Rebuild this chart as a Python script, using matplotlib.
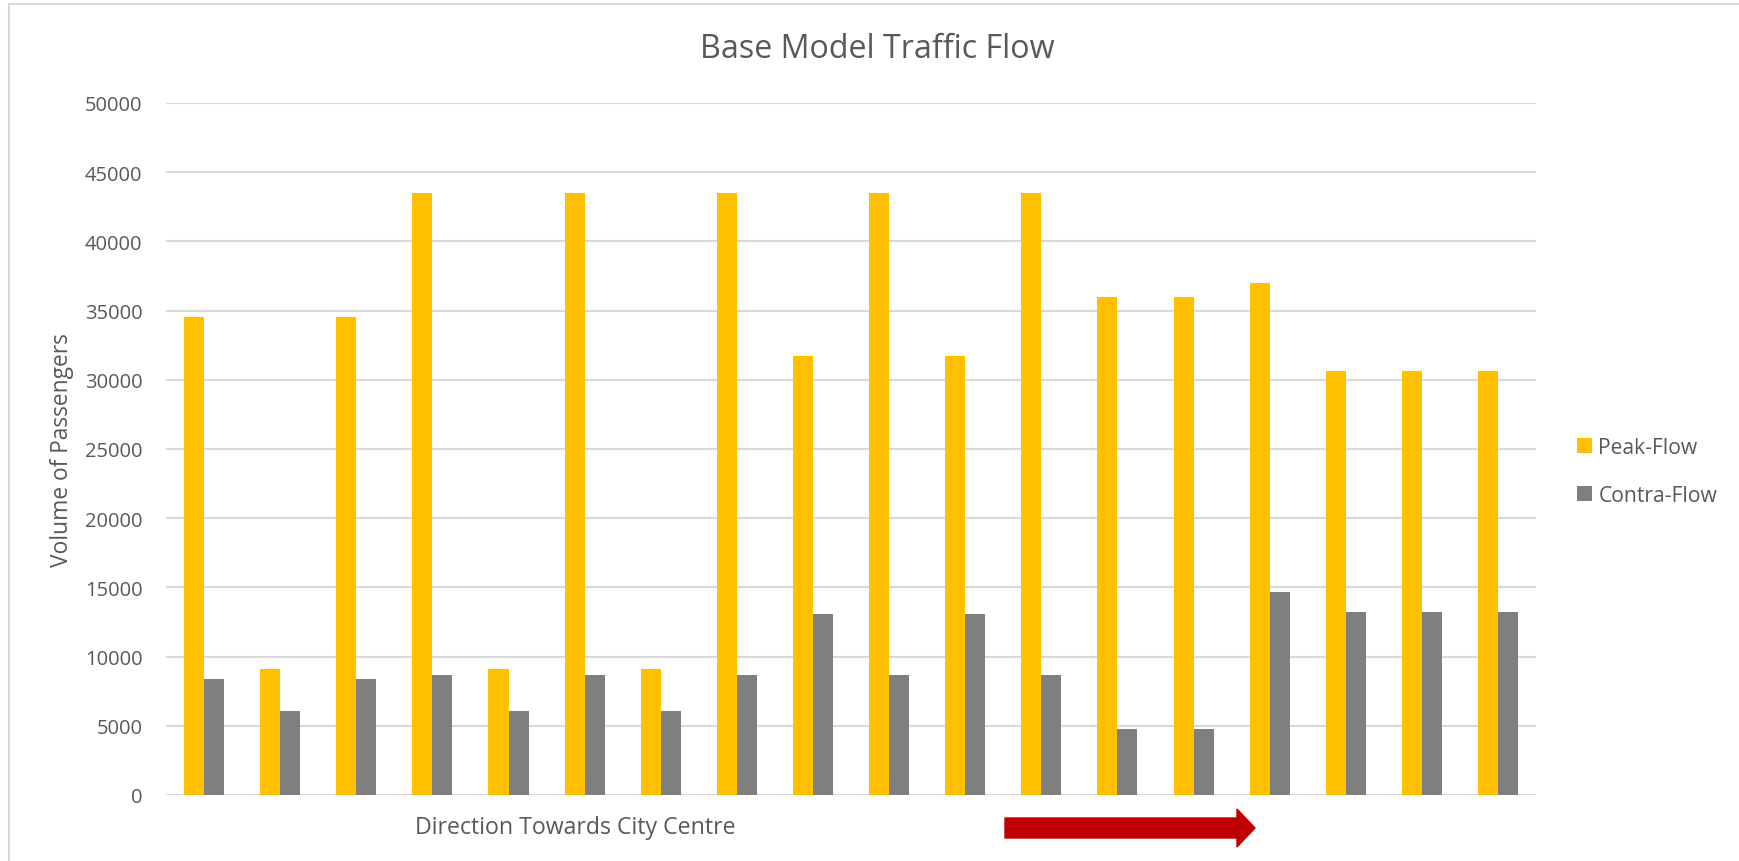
import numpy as np
import matplotlib
matplotlib.use('Agg')
import matplotlib.pyplot as plt
from matplotlib.patches import FancyArrow, Rectangle

# values
stations = np.arange(18)
peak_flow = [34500, 9100, 34500, 43500, 9100, 43500, 9100, 43500, 31700,
             43500, 31700, 43500, 36000, 36000, 37000, 30600, 30600, 30600]
contra_flow = [8400, 6100, 8400, 8700, 6100, 8700, 6100, 8700, 13100,
               8700, 13100, 8700, 4750, 4750, 14700, 13200, 13200, 13200]
yticks = np.arange(0, 50001, 5000)

plt.rcParams['font.family'] = ['Open Sans', 'DejaVu Sans']
txt = '#595959'

fig = plt.figure(figsize=(17.4, 8.62), dpi=100)
ax = fig.add_axes([0.0954, 0.0766, 0.7874, 0.8028])

w = 0.263
ax.bar(stations - w / 2, peak_flow, w, color='#FFC000', label='Peak-Flow', zorder=3)
ax.bar(stations + w / 2, contra_flow, w, color='#7F7F7F', label='Contra-Flow', zorder=3)

ax.set_xlim(-0.5, len(stations) - 0.5)
ax.set_ylim(0, 50000)
ax.set_yticks(yticks)
ax.set_yticklabels([str(v) for v in yticks])
ax.set_xticks([])
ax.grid(axis='y', color='#D9D9D9', linewidth=1.5, zorder=0)
ax.tick_params(axis='y', length=0, pad=17, labelsize=14.5, labelcolor=txt)
for s in ax.spines.values():
    s.set_visible(False)

ax.set_ylabel('Volume of Passengers', fontsize=16.4, color=txt, labelpad=8)

fig.text(0.504, 0.942, 'Base Model Traffic Flow', ha='center', va='center',
         fontsize=23.2, color=txt)
fig.text(0.3305, 0.0395, 'Direction Towards City Centre', ha='center', va='center',
         fontsize=16.7, color=txt)

# red direction arrow (inches from the lower-left corner)
arrow = FancyArrow(10.05, 0.33, 2.32, 0, width=0.2, head_width=0.38,
                   head_length=0.18, length_includes_head=False,
                   color='#C00000', transform=fig.dpi_scale_trans)
fig.patches.append(arrow)

fig.legend(loc='center left', bbox_to_anchor=(0.8955, 0.452), frameon=False,
           fontsize=15.2, handlelength=0.7, handleheight=0.7,
           handletextpad=0.3, labelspacing=1.3, labelcolor=txt)

# thin chart-area border
fig.patches.append(Rectangle((0.005, -0.01), 1.1, 1.004, transform=fig.transFigure,
                             fill=False, edgecolor='#D9D9D9', linewidth=1.5))

fig.savefig('out.png', dpi=100)
